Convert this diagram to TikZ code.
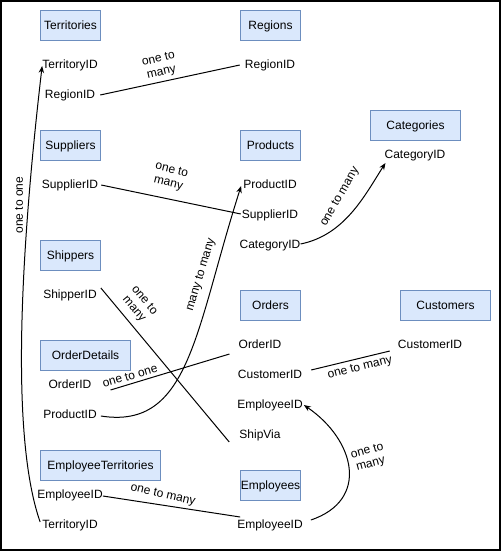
\documentclass[tikz,border=0pt]{standalone}
\usepackage{fontspec}
\setmainfont{Liberation Sans}
\usetikzlibrary{arrows.meta,calc}
\definecolor{boxfill}{HTML}{DAE8FC}
\definecolor{boxline}{HTML}{6C8EBF}
\begin{document}
\begin{tikzpicture}[x=1pt,y=-1pt,
  tbl/.style={draw=boxline, fill=boxfill, line width=1pt, inner sep=0pt, anchor=north west, text height=8.6pt, text depth=0pt, font=\fontsize{12}{14}\selectfont},
  fld/.style={inner sep=0pt, text height=8.6pt, text depth=0pt, font=\fontsize{12}{14}\selectfont},
  lbl/.style={inner sep=0pt, align=center, font=\fontsize{12}{13.5}\selectfont},
  conn/.style={line width=1pt, black},
  arr/.style={conn, -{Stealth[length=7pt,width=5.5pt]}}]
\useasboundingbox (0,0) rectangle (501,551);
\draw[line width=2pt] (1,1) rectangle (500,550);
% tables
\node[tbl, minimum width=60pt, minimum height=30pt] (territories) at (40,10) {Territories};
\node[tbl, minimum width=60pt, minimum height=30pt] (regions) at (240,10) {Regions};
\node[tbl, minimum width=60pt, minimum height=30pt] (suppliers) at (40,130) {Suppliers};
\node[tbl, minimum width=60pt, minimum height=30pt] (products) at (240,130) {Products};
\node[tbl, minimum width=90pt, minimum height=30pt] (categories) at (370,110) {Categories};
\node[tbl, minimum width=60pt, minimum height=30pt] (shippers) at (40,240) {Shippers};
\node[tbl, minimum width=60pt, minimum height=30pt] (orders) at (240,290) {Orders};
\node[tbl, minimum width=90pt, minimum height=30pt] (customers) at (400,290) {Customers};
\node[tbl, minimum width=90pt, minimum height=30pt] (orderdetails) at (40,340) {OrderDetails};
\node[tbl, minimum width=120pt, minimum height=30pt] (empterr) at (40,450) {EmployeeTerritories};
\node[tbl, minimum width=60pt, minimum height=30pt] (employees) at (240,470) {Employees};
% fields
\node[fld] (tTerrID) at (70,64) {TerritoryID};
\node[fld] (tRegID) at (70,94) {RegionID};
\node[fld] (rRegID) at (270,64) {RegionID};
\node[fld] (sSupID) at (70,184) {SupplierID};
\node[fld] (pProdID) at (270,184) {ProductID};
\node[fld] (pSupID) at (270,214) {SupplierID};
\node[fld] (pCatID) at (270,244) {CategoryID};
\node[fld] (cCatID) at (415,154) {CategoryID};
\node[fld] (shID) at (70,294) {ShipperID};
\node[fld] (oOrdID) at (260,344) {OrderID};
\node[fld] (oCustID) at (270,374) {CustomerID};
\node[fld] (oEmpID) at (270,404) {EmployeeID};
\node[fld] (oShip) at (260,434) {ShipVia};
\node[fld] (cuCustID) at (430,344) {CustomerID};
\node[fld] (odOrdID) at (70,384) {OrderID};
\node[fld] (odProdID) at (70,414) {ProductID};
\node[fld] (etEmpID) at (70,494) {EmployeeID};
\node[fld] (etTerrID) at (70,524) {TerritoryID};
\node[fld] (eEmpID) at (270,524) {EmployeeID};
% connectors
\draw[conn] ($(tRegID.east)+(5,1)$) -- ($(rRegID.west)+(-5,1)$);
\draw[conn] ($(sSupID.east)+(3,1)$) -- ($(pSupID.west)+(-1,0)$);
\draw[arr] (pCatID.east) .. controls (345,235) and (365,195) .. ($(cCatID.west)+(1,9)$);
\draw[arr] ($(odProdID.east)+(4,2)$) .. controls (190,430) and (195,330) .. ($(pProdID.west)+(-2,2)$);
\draw[conn] ($(shID.east)+(4,-6)$) -- ($(oShip.west)+(-10,8)$);
\draw[conn] ($(odOrdID.east)+(19,6)$) -- ($(oOrdID.west)+(-9,10)$);
\draw[conn] ($(oCustID.east)+(9,-4)$) -- ($(cuCustID.west)+(-8,7)$);
\draw[arr] ($(eEmpID.east)+(8,-4)$) .. controls (370,500) and (355,440) .. ($(oEmpID.east)+(1,1)$);
\draw[conn] ($(etEmpID.east)+(0,2)$) -- ($(eEmpID.west)+(3,-7)$);
\draw[arr] ($(etTerrID.west)+(-2,-2)$) .. controls (15,450) and (15,300) .. ($(tTerrID.west)+(0,2)$);
% labels
\node[lbl, rotate=13] (l1) at (160,66) {one to\\many};
\node[lbl, rotate=-14] (l2) at (170,177) {one to\\many};
\node[lbl, rotate=60] (l3) at (340,197) {one to many};
\node[lbl, rotate=73] (l4) at (201,275) {many to many};
\node[lbl, rotate=-50] (l5) at (139,305) {one to\\many};
\node[lbl, rotate=16] (l6) at (130,376) {one to one};
\node[lbl, rotate=14] (l7) at (360,368) {one to many};
\node[lbl, rotate=15] (l8) at (369,458) {one to\\many};
\node[lbl, rotate=-13] (l9) at (163,495) {one to many};
\node[lbl, rotate=90] (l10) at (19,205) {one to one};
\end{tikzpicture}
\end{document}
